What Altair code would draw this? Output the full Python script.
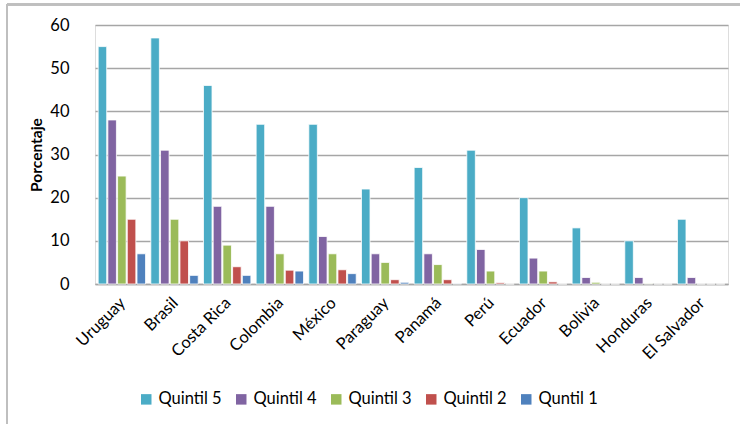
import altair as alt
import pandas as pd

# Countries and the share (%) for each income quintile
paises = ["Uruguay", "Brasil", "Costa Rica", "Colombia", "México", "Paraguay",
          "Panamá", "Perú", "Ecuador", "Bolivia", "Honduras", "El Salvador"]
quintil_5 = [55, 57, 46, 37, 37, 22, 27, 31, 20, 13, 10, 15]
quintil_4 = [38, 31, 18, 18, 11, 7, 7, 8, 6, 1.5, 1.5, 1.5]
quintil_3 = [25, 15, 9, 7, 7, 5, 4.5, 3, 3, 0.4, 0.1, 0]
quintil_2 = [15, 10, 4, 3.2, 3.3, 1, 1, 0.3, 0.5, 0, 0, 0]
quintil_1 = [7, 2, 2, 3, 2.4, 0.4, 0.1, 0, 0, 0, 0, 0]

series = ["Quintil 5", "Quintil 4", "Quintil 3", "Quintil 2", "Quntil 1"]
colores = ["#4BACC6", "#8064A2", "#9BBB59", "#C0504D", "#4F81BD"]

rows = []
for nombre, valores in zip(series, [quintil_5, quintil_4, quintil_3, quintil_2, quintil_1]):
    for pais, v in zip(paises, valores):
        rows.append({"pais": pais, "quintil": nombre, "valor": v})
df = pd.DataFrame(rows)

FONT = "Lato"
GRID = "#A6A6A6"

bars = alt.Chart(df).mark_bar(stroke="white", strokeWidth=0.8).encode(
    x=alt.X("pais:N", sort=paises, title=None,
            scale=alt.Scale(paddingInner=0.1, paddingOuter=0.06),
            axis=alt.Axis(labelAngle=-45, labelFontSize=16.5, labelFont=FONT,
                          labelColor="black", ticks=False, domainColor=GRID,
                          domainWidth=1.5, labelPadding=16, labelBaseline="middle",
                          labelAlign="right", labelOffset=1)),
    xOffset=alt.XOffset("quintil:N", sort=series,
                        scale=alt.Scale(paddingInner=0.12)),
    y=alt.Y("valor:Q", title="Porcentaje",
            scale=alt.Scale(domain=[0, 60], nice=False),
            axis=alt.Axis(values=[0, 10, 20, 30, 40, 50, 60], domain=False,
                          ticks=False, labelFontSize=16.5, labelFont=FONT,
                          labelColor="black", labelPadding=26,
                          gridColor=GRID, gridWidth=1.5,
                          titleFont=FONT, titleFontSize=15.5, titleFontWeight="bold",
                          titleColor="black", titlePadding=5)),
    color=alt.Color("quintil:N", sort=series,
                    scale=alt.Scale(domain=series, range=colores),
                    legend=alt.Legend(title=None, orient="none", direction="horizontal",
                                      legendX=43, legendY=366, symbolType="square",
                                      symbolSize=110, symbolStrokeWidth=0,
                                      labelFont=FONT, labelFontSize=16.5,
                                      labelColor="black", columnPadding=11,
                                      labelOffset=4)),
)

# Outer frame of the chart area
frame_left = alt.Chart(df).mark_rule(color="#BFBFBF", strokeWidth=1.5).encode(
    x=alt.value(-88), y=alt.value(-21), y2=alt.value(420))
frame_top = alt.Chart(df).mark_rule(color="#BFBFBF", strokeWidth=1.5).encode(
    x=alt.value(-88), x2=alt.value(660), y=alt.value(-20.5))

chart = alt.layer(bars, frame_left, frame_top).properties(
    width=633, height=259,
    autosize=alt.AutoSizeParams(type="none"),
    padding={"left": 95, "top": 25, "right": 12, "bottom": 140},
).configure_view(stroke=None).configure(background="white")

chart.save("out.html", embed_options={"renderer": "svg", "actions": False})
